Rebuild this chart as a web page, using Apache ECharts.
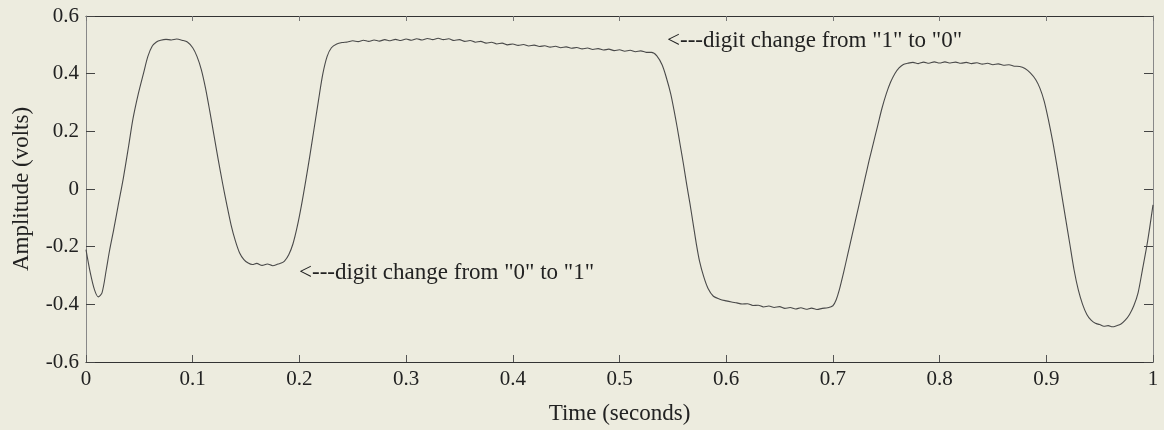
<!DOCTYPE html>
<html>
<head>
<meta charset="utf-8">
<script src="https://cdn.jsdelivr.net/npm/echarts@6/dist/echarts.min.js"></script>
<style>
html,body{margin:0;padding:0;background:#edecdf;}
#chart{width:1164px;height:430px;}
</style>
</head>
<body>
<div id="chart"></div>
<script>
// Time (seconds)
const timeValues = [
0.000,0.004,0.008,0.0115,0.015,0.019,0.022,0.026,0.030,0.035,0.040,0.044,0.049,0.054,0.058,0.062,0.066,0.070,0.075,0.080,0.085,0.090,0.095,
0.100,0.104,0.108,0.112,0.116,0.120,0.124,0.128,0.132,0.136,0.140,0.144,0.148,0.152,0.156,0.160,0.165,0.170,0.175,0.180,0.183,
0.186,0.190,0.194,0.198,0.202,0.206,0.210,0.214,0.218,0.222,0.226,0.230,0.235,0.240,
0.245,0.250,0.255,0.260,0.265,0.270,0.275,0.280,0.285,0.290,0.295,0.300,0.305,0.310,0.315,0.320,0.325,0.330,0.335,0.340,0.345,0.350,0.355,0.360,0.365,0.370,0.375,0.380,0.385,0.390,0.395,0.400,0.405,0.410,0.415,0.420,0.425,0.430,0.435,0.440,0.445,0.450,0.455,0.460,0.465,0.470,0.475,0.480,0.485,0.490,0.495,0.500,0.505,0.510,0.515,0.520,0.525,0.530,
0.535,0.540,0.544,0.548,0.551,0.554,0.557,0.560,0.563,0.566,0.569,0.572,0.575,0.579,0.583,0.588,0.594,0.600,
0.605,0.610,0.615,0.620,0.625,0.630,0.635,0.640,0.645,0.650,0.655,0.660,0.665,0.670,0.675,0.680,0.685,0.690,0.695,
0.700,0.703,0.706,0.710,0.714,0.718,0.722,0.726,0.730,0.734,0.738,0.742,0.746,0.750,0.754,0.758,0.762,0.766,0.770,
0.775,0.780,0.785,0.790,0.795,0.800,0.805,0.810,0.815,0.820,0.825,0.830,0.835,0.840,0.845,0.850,0.855,0.860,0.865,0.870,0.875,0.880,
0.885,0.890,0.894,0.898,0.902,0.906,0.910,0.914,0.918,0.922,0.926,0.930,0.934,0.938,0.942,0.946,0.950,0.954,0.958,0.962,0.966,0.970,0.974,0.978,0.982,0.986,0.990,0.995,1.000
];
// Amplitude (volts)
const amplitudeValues = [
-0.21,-0.29,-0.35,-0.374,-0.36,-0.28,-0.215,-0.14,-0.06,0.038,0.15,0.243,0.33,0.403,0.46,0.495,0.51,0.516,0.519,0.517,0.52,0.516,0.51,
0.49,0.46,0.415,0.35,0.27,0.185,0.10,0.02,-0.055,-0.125,-0.18,-0.222,-0.245,-0.257,-0.262,-0.258,-0.265,-0.26,-0.266,-0.26,-0.257,
-0.25,-0.228,-0.19,-0.13,-0.055,0.03,0.12,0.215,0.31,0.40,0.46,0.49,0.503,0.508,
0.510,0.514,0.511,0.516,0.512,0.517,0.513,0.518,0.514,0.519,0.515,0.520,0.516,0.521,0.517,0.522,0.518,0.523,0.518,0.521,0.515,0.518,0.512,0.515,0.509,0.512,0.506,0.509,0.503,0.506,0.500,0.503,0.498,0.501,0.496,0.499,0.494,0.497,0.492,0.495,0.490,0.493,0.488,0.491,0.486,0.489,0.484,0.487,0.482,0.485,0.480,0.483,0.478,0.481,0.476,0.479,0.474,0.474,
0.462,0.43,0.385,0.33,0.275,0.215,0.15,0.085,0.015,-0.05,-0.12,-0.19,-0.25,-0.305,-0.345,-0.372,-0.382,-0.388,
-0.392,-0.395,-0.399,-0.398,-0.404,-0.403,-0.409,-0.406,-0.411,-0.408,-0.414,-0.411,-0.416,-0.412,-0.417,-0.413,-0.418,-0.414,-0.412,
-0.405,-0.385,-0.35,-0.29,-0.225,-0.16,-0.095,-0.03,0.035,0.10,0.16,0.22,0.28,0.33,0.37,0.40,0.42,0.432,0.436,
0.439,0.435,0.440,0.436,0.441,0.437,0.441,0.437,0.440,0.436,0.439,0.435,0.438,0.433,0.436,0.431,0.434,0.429,0.431,0.426,0.425,0.418,
0.403,0.38,0.35,0.305,0.24,0.165,0.08,-0.01,-0.10,-0.19,-0.28,-0.35,-0.40,-0.435,-0.455,-0.466,-0.47,-0.476,-0.474,-0.478,-0.474,-0.468,-0.455,-0.435,-0.405,-0.36,-0.282,-0.18,-0.055
];
const xTicks = [0, 0.1, 0.2, 0.3, 0.4, 0.5, 0.6, 0.7, 0.8, 0.9, 1];
const yTicks = [-0.6, -0.4, -0.2, 0, 0.2, 0.4, 0.6];
const xTitle = 'Time (seconds)';
const yTitle = 'Amplitude (volts)';
const note10 = '<---digit change from "1" to "0"';
const note01 = '<---digit change from "0" to "1"';

const FONT = '"Liberation Serif", "DejaVu Serif", serif';
const seriesData = timeValues.map((t, i) => [t, amplitudeValues[i]]);

const chart = echarts.init(document.getElementById('chart'), null, {renderer: 'canvas'});
chart.setOption({
  backgroundColor: '#edecdf',
  animation: false,
  grid: {left: 86, right: 11, top: 16, bottom: 64, containLabel: false},
  xAxis: [{
    type: 'value', position: 'bottom', min: 0, max: 1, interval: 0.1,
    name: xTitle, nameLocation: 'middle', nameGap: 40,
    nameTextStyle: {fontFamily: FONT, fontSize: 23, color: '#222'},
    axisLine: {show: true, onZero: false, lineStyle: {color: '#333', width: 1.2}},
    axisTick: {show: true, inside: true, length: 7, lineStyle: {color: '#555'}},
    axisLabel: {fontFamily: FONT, fontSize: 21, color: '#222', margin: 7,
      formatter: v => String(xTicks.find(t => Math.abs(t - v) < 1e-9) ?? v)},
    splitLine: {show: false}
  }, {
    type: 'value', position: 'top', min: 0, max: 1, interval: 0.1,
    axisLine: {show: true, onZero: false, lineStyle: {color: '#333', width: 1.2}},
    axisTick: {show: true, inside: true, length: 5, lineStyle: {color: '#777'}},
    axisLabel: {show: false}, splitLine: {show: false}
  }],
  yAxis: [{
    type: 'value', position: 'left', min: -0.6, max: 0.6, interval: 0.2,
    name: yTitle, nameLocation: 'middle', nameGap: 53, nameRotate: 90,
    nameTextStyle: {fontFamily: FONT, fontSize: 23, color: '#222'},
    axisLine: {show: true, onZero: false, lineStyle: {color: '#888', width: 1}},
    axisTick: {show: true, inside: true, length: 9, lineStyle: {color: '#444'}},
    axisLabel: {fontFamily: FONT, fontSize: 21, color: '#222', margin: 7,
      formatter: v => String(yTicks.find(t => Math.abs(t - v) < 1e-9) ?? v)},
    splitLine: {show: false}
  }, {
    type: 'value', position: 'right', min: -0.6, max: 0.6, interval: 0.2,
    axisLine: {show: true, onZero: false, lineStyle: {color: '#888', width: 1}},
    axisTick: {show: true, inside: true, length: 9, lineStyle: {color: '#444'}},
    axisLabel: {show: false}, splitLine: {show: false}
  }],
  series: [{
    type: 'line', xAxisIndex: 0, yAxisIndex: 0,
    data: seriesData, showSymbol: false, smooth: 0.3,
    lineStyle: {color: '#4a4a4a', width: 1.1}
  }],
  graphic: [
    {type: 'text', left: 667, top: 29, style: {text: note10, font: '23px ' + FONT, fill: '#222'}},
    {type: 'text', left: 299, top: 261, style: {text: note01, font: '23px ' + FONT, fill: '#222'}}
  ]
});
</script>
</body>
</html>
